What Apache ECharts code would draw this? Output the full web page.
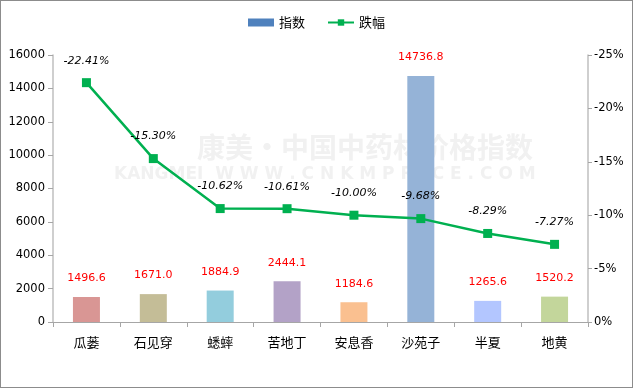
<!DOCTYPE html>
<html><head><meta charset="utf-8">
<script src="https://cdn.jsdelivr.net/npm/echarts@6/dist/echarts.min.js"></script>
<style>html,body{margin:0;padding:0;background:#fff}#c{width:631px;height:386px;border:1px solid #8c8c8c}</style>
</head><body><div id="c"></div>
<script>
var categories = ['瓜蒌','石见穿','蟋蟀','苦地丁','安息香','沙苑子','半夏','地黄'];
var indexValues = [1496.6,1671.0,1884.9,2444.1,1184.6,14736.8,1265.6,1520.2];
var changeValues = [-22.41,-15.30,-10.62,-10.61,-10.00,-9.68,-8.29,-7.27];
var leftTicks = [0,2000,4000,6000,8000,10000,12000,14000,16000];
var rightTicks = [0,-5,-10,-15,-20,-25];
var barColors = ['#D99694','#C4BD97','#93CDDD','#B3A2C7','#FAC090','#95B3D7','#B3C6FF','#C3D69B'];

var chart = echarts.init(document.getElementById('c'));
var font = 'DejaVu Sans';
chart.setOption({
  animation:false,
  textStyle:{fontFamily:font},
  graphic:[
    {type:'text',left:196,top:132,z:-10,silent:true,style:{text:'康美·中国中药材价格指数',fill:'#f1f1f1',font:'bold 28px "Noto Sans CJK SC"'}},
    {type:'text',left:113,top:165,z:-10,silent:true,style:{text:'KANGMEI  W W W . C N K M P R I C E . C O M',fill:'#f1f1f1',font:'bold 17px "DejaVu Sans"'}}
  ],
  legend:{
    top:10,left:'center',itemGap:22,itemWidth:26,itemHeight:8,
    textStyle:{fontSize:13,color:'#000',fontFamily:'Noto Sans CJK SC'},
    data:[{name:'指数',icon:'rect'},{name:'跌幅'}]
  },
  grid:{left:52,right:44,top:54,bottom:65},
  xAxis:{
    type:'category',data:categories,
    axisLine:{lineStyle:{color:'#a6a6a6'}},
    axisTick:{show:true,length:5,lineStyle:{color:'#a6a6a6'}},
    axisLabel:{color:'#000',fontSize:13,margin:14,fontFamily:'Noto Sans CJK SC'}
  },
  yAxis:[
    {type:'value',min:0,max:16000,interval:2000,
     axisLine:{show:true,lineStyle:{color:'#bfbfbf',width:1.5}},
     axisTick:{show:true,length:5,lineStyle:{color:'#a6a6a6'}},
     splitLine:{show:false},
     axisLabel:{color:'#000',fontSize:11.5,margin:8,formatter:function(v){return String(v);}}},
    {type:'value',min:-25,max:0,interval:5,inverse:true,
     axisLine:{show:true,lineStyle:{color:'#bfbfbf',width:1.5}},
     axisTick:{show:true,length:4,lineStyle:{color:'#a6a6a6'}},
     splitLine:{show:false},
     axisLabel:{color:'#000',fontSize:11.5,margin:6,formatter:function(v){return v+'%';}}}
  ],
  series:[
    {name:'指数',type:'bar',yAxisIndex:0,barWidth:27,itemStyle:{color:'#4F81BD'},
     data:indexValues.map(function(v,i){return {value:v,itemStyle:{color:barColors[i]}};}),
     label:{show:true,position:'top',distance:13,color:'#ff0000',fontSize:11,
       formatter:function(p){return p.value.toFixed(1);}}},
    {name:'跌幅',type:'line',yAxisIndex:1,data:changeValues,
     symbol:'rect',symbolSize:9,itemStyle:{color:'#00B050'},lineStyle:{color:'#00B050',width:2.5},
     label:{show:true,position:'top',distance:12,color:'#000',fontSize:11,fontStyle:'italic',
       formatter:function(p){return p.value.toFixed(2)+'%';}}}
  ]
});
</script></body></html>
